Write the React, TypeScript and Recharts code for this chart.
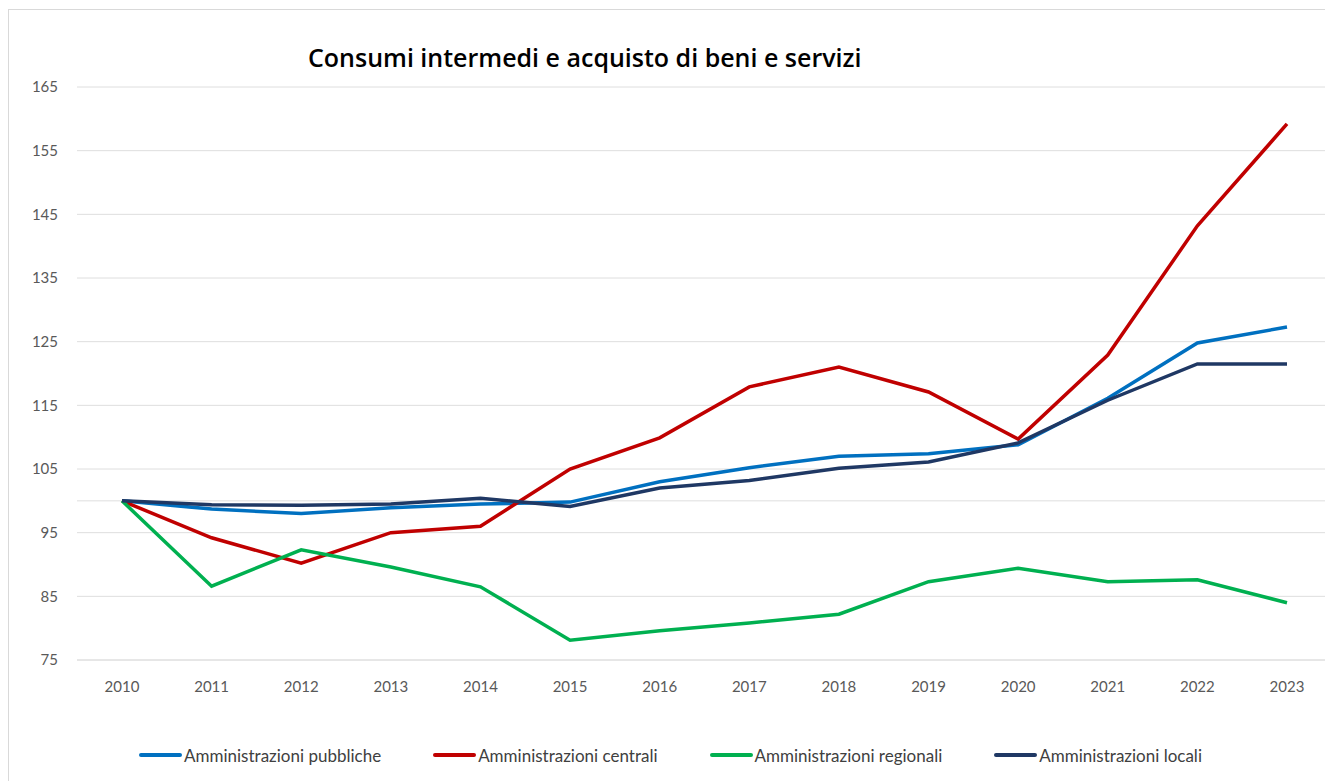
import { LineChart, Line, XAxis, YAxis, CartesianGrid, Legend, ReferenceLine } from "recharts";

// Indici 2010 = 100
const years = ["2010", "2011", "2012", "2013", "2014", "2015", "2016", "2017", "2018", "2019", "2020", "2021", "2022", "2023"];
const pubbliche = [100, 98.7, 98.0, 98.9, 99.5, 99.8, 103.0, 105.2, 107.0, 107.4, 108.8, 116.1, 124.8, 127.3];
const centrali = [100, 94.2, 90.2, 95.0, 96.0, 105.0, 109.9, 117.9, 121.0, 117.1, 109.7, 122.9, 143.2, 159.2];
const regionali = [100, 86.6, 92.3, 89.6, 86.5, 78.1, 79.6, 80.8, 82.2, 87.3, 89.4, 87.3, 87.6, 84.0];
const locali = [100, 99.4, 99.3, 99.5, 100.4, 99.1, 102.0, 103.2, 105.1, 106.1, 109.1, 115.8, 121.5, 121.5];
const yTicks = [75, 85, 95, 105, 115, 125, 135, 145, 155, 165];

const series = [
  { key: "pubbliche", name: "Amministrazioni pubbliche", color: "#0070C0" },
  { key: "centrali", name: "Amministrazioni centrali", color: "#C00000" },
  { key: "regionali", name: "Amministrazioni regionali", color: "#00B050" },
  { key: "locali", name: "Amministrazioni locali", color: "#1F3864" },
];

const data = years.map((year, i) => ({
  year,
  pubbliche: pubbliche[i],
  centrali: centrali[i],
  regionali: regionali[i],
  locali: locali[i],
}));

const FONT = "Lato, 'Open Sans', sans-serif";

function LegendRow() {
  return (
    <div style={{ display: "flex", justifyContent: "center", alignItems: "center", height: 30, fontFamily: FONT, fontSize: 17, color: "#404040" }}>
      {series.map((s) => (
        <div key={s.key} style={{ display: "flex", alignItems: "center", margin: "0 26px" }}>
          <span style={{ display: "inline-block", width: 43, height: 4, borderRadius: 2, background: s.color, marginRight: 2 }} />
          <span>{s.name}</span>
        </div>
      ))}
    </div>
  );
}

export default function App() {
  return (
    <div style={{ position: "fixed", left: 0, top: 0, width: 1325, height: 781, overflow: "hidden", background: "#fff" }}>
      <div
        style={{
          position: "absolute",
          left: 8,
          top: 9,
          borderLeft: "1px solid #d9d9d9",
          borderTop: "1px solid #d9d9d9",
        }}
      >
        <LineChart width={1323} height={771} data={data} margin={{ top: 77, right: 0, bottom: 11, left: 0 }}>
          <CartesianGrid vertical={false} stroke="#dedede" />
          <XAxis
            dataKey="year"
            height={80}
            padding={{ left: 45, right: 45 }}
            axisLine={{ stroke: "#dedede" }}
            tickLine={false}
            tickSize={0}
            tickMargin={21}
            tick={{ fill: "#595959", fontSize: 15, fontFamily: FONT }}
          />
          <YAxis
            width={68}
            domain={[75, 165]}
            ticks={yTicks}
            interval={0}
            axisLine={false}
            tickLine={false}
            tickSize={0}
            tickMargin={19}
            tick={{ fill: "#595959", fontSize: 15, fontFamily: FONT }}
          />
          <ReferenceLine y={100} stroke="#dedede" />
          {series.map((s) => (
            <Line
              key={s.key}
              type="linear"
              dataKey={s.key}
              name={s.name}
              stroke={s.color}
              strokeWidth={3.5}
              dot={false}
              isAnimationActive={false}
            />
          ))}
          <Legend verticalAlign="bottom" content={() => <LegendRow />} />
        </LineChart>
      </div>
      <div
        style={{
          position: "absolute",
          left: 308,
          top: 40,
          lineHeight: "34px",
          fontFamily: "'Open Sans', sans-serif",
          fontSize: 25,
          fontWeight: 600,
          color: "#000",
          whiteSpace: "nowrap",
        }}
      >
        Consumi intermedi e acquisto di beni e servizi
      </div>
    </div>
  );
}
